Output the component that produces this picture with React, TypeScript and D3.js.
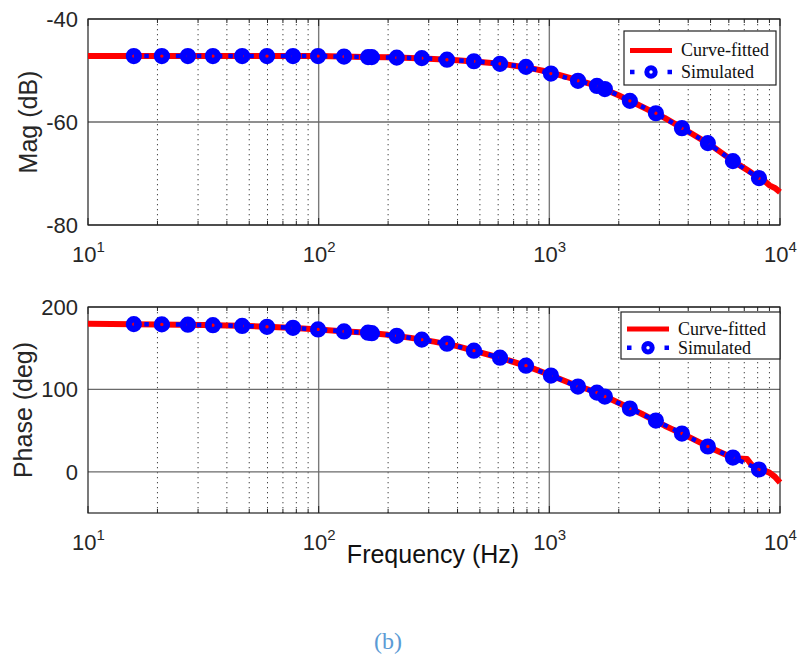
import React from 'react'
import * as d3 from 'd3'

// simulated points (Hz, dB, deg)
const simFreq = [15.8, 20.9, 27.1, 34.8, 46.6, 59.7, 77.4, 99.4, 128.8, 163.7, 170, 218, 280, 360, 471, 611, 792, 1016, 1331, 1608, 1741, 2235, 2897, 3758, 4867, 6250, 8108]
const simMag = [-47.2, -47.2, -47.2, -47.2, -47.2, -47.2, -47.2, -47.2, -47.3, -47.4, -47.4, -47.5, -47.6, -47.9, -48.2, -48.7, -49.3, -50.6, -52.0, -53.0, -53.6, -55.9, -58.3, -61.2, -64.1, -67.6, -70.9]
const simPhase = [179.2, 178.9, 178.5, 177.9, 177.0, 176.0, 174.7, 172.8, 170.3, 168.8, 168.2, 165.0, 160.4, 155.5, 147.0, 138.5, 128.8, 116.8, 103.4, 96.1, 91.3, 76.7, 62.2, 46.4, 30.7, 17.3, 2.8]

// curve-fitted response
const fitFreq = [10, 12.6, 15.8, 20, 25, 31.6, 40, 50, 63, 79, 100, 126, 158, 200, 251, 316, 398, 501, 631, 794, 1000, 1259, 1585, 1995, 2512, 3162, 3981, 5012, 6310, 7200, 7500, 7943, 8500, 9000, 9500, 10000]
const fitMag = [-47.2, -47.2, -47.2, -47.2, -47.2, -47.2, -47.2, -47.2, -47.2, -47.2, -47.2, -47.3, -47.4, -47.45, -47.55, -47.75, -48.0, -48.35, -48.75, -49.4, -50.3, -51.6, -52.9, -54.8, -57.0, -59.2, -61.8, -64.5, -67.7, -69.3, -69.8, -70.7, -71.3, -72.3, -72.8, -73.6]
const fitPhase = [179.6, 179.4, 179.2, 178.9, 178.6, 178.1, 177.5, 176.8, 175.8, 174.6, 172.8, 170.5, 169.0, 166.2, 162.5, 158.0, 152.5, 145.0, 137.2, 128.5, 117.8, 106.6, 96.8, 83.8, 70.4, 56.0, 43.0, 29.0, 16.5, 15.5, 9.0, 4.0, 2.0, -1.0, -6.0, -13.0]

const decades = [10, 100, 1000, 10000]
const magTicks = [-80, -60, -40]
const phaseTicks = [0, 100, 200]
const legendItems = ['Curve-fitted', 'Simulated']

const W = 799
const H = 655
const left = 88
const right = 780
const sans = 'Liberation Sans, Arial, sans-serif'
const serif = 'Liberation Serif, Times New Roman, serif'

const x = d3.scaleLog().domain([10, 10000]).range([left, right])

const minors: number[] = []
decades.slice(0, 3).forEach((d) => {
  for (let k = 2; k <= 9; k++) minors.push(d * k)
})

function Panel({ top, bottom, domain, ticks, fit, sim, label, legend }: any) {
  const y = d3.scaleLinear().domain(domain).range([bottom, top])
  const line = d3
    .line<number>()
    .x((d, i) => x(fitFreq[i]))
    .y((d) => y(d))
  const simLine = d3
    .line<number>()
    .x((d, i) => x(simFreq[i]))
    .y((d) => y(d))
  const clipId = 'clip' + top
  return (
    <g>
      <defs>
        <clipPath id={clipId}>
          <rect x={left} y={top - 4} width={right - left + 4} height={bottom - top + 8} />
        </clipPath>
      </defs>
      {/* minor grid */}
      {minors.map((m) => (
        <line key={m} x1={x(m)} x2={x(m)} y1={top} y2={bottom} stroke="#444" strokeWidth={1} strokeDasharray="1.3,3.7" />
      ))}
      {/* major grid */}
      {decades.slice(1, 3).map((d) => (
        <line key={d} x1={x(d)} x2={x(d)} y1={top} y2={bottom} stroke="#7a7a7a" strokeWidth={1.4} />
      ))}
      {ticks.map((t: number) => (
        <line key={t} x1={left} x2={right} y1={y(t)} y2={y(t)} stroke="#6a6a6a" strokeWidth={1.3} />
      ))}
      <rect x={left} y={top} width={right - left} height={bottom - top} fill="none" stroke="#222" strokeWidth={1.2} />
      {/* inner ticks */}
      {minors.concat(decades).map((m) => (
        <g key={'t' + m}>
          <line x1={x(m)} x2={x(m)} y1={bottom} y2={bottom - (decades.includes(m) ? 7 : 4)} stroke="#222" />
          <line x1={x(m)} x2={x(m)} y1={top} y2={top + (decades.includes(m) ? 7 : 4)} stroke="#222" />
        </g>
      ))}
      {/* data */}
      <g clipPath={`url(#${clipId})`}>
        <path d={line(fit) || ''} fill="none" stroke="#ff0000" strokeWidth={6} strokeLinejoin="round" />
        <path d={simLine(sim) || ''} fill="none" stroke="#0000ff" strokeWidth={4.5} strokeDasharray="4.5,6" />
        {sim.map((v: number, i: number) => (
          <circle key={i} cx={x(simFreq[i])} cy={y(v)} r={4.9} fill="none" stroke="#0000ff" strokeWidth={6.4} />
        ))}
      </g>
      {/* y tick labels */}
      {ticks.map((t: number) => (
        <text key={'l' + t} x={left - 10} y={y(t) + 8} textAnchor="end" fontFamily={sans} fontSize={22} fill="#262626">
          {t}
        </text>
      ))}
      {/* x tick labels */}
      {decades.map((d, i) => (
        <text key={'x' + d} x={x(d) - 16} y={bottom + 37} fontFamily={sans} fontSize={22} fill="#262626">
          10
          <tspan dy={-10} fontSize={15}>
            {i + 1}
          </tspan>
        </text>
      ))}
      <text
        transform={`translate(${label.x},${(top + bottom) / 2}) rotate(-90)`}
        textAnchor="middle"
        fontFamily={sans}
        fontSize={25}
        fill="#262626"
      >
        {label.text}
      </text>
      {/* legend */}
      <g transform={`translate(${legend.x},${legend.y})`}>
        <rect x={0} y={0} width={legend.w} height={legend.h} fill="#fff" stroke="#222" strokeWidth={1.2} />
        <line x1={6} x2={48} y1={legend.h * 0.36} y2={legend.h * 0.36} stroke="#ff0000" strokeWidth={5} />
        <line x1={6} x2={48} y1={legend.h * 0.76} y2={legend.h * 0.76} stroke="#0000ff" strokeWidth={4.5} strokeDasharray="4.5,33" />
        <circle cx={27} cy={legend.h * 0.76} r={4.2} fill="none" stroke="#0000ff" strokeWidth={5} />
        {legendItems.map((s, i) => (
          <text key={s} x={57} y={legend.h * (i === 0 ? 0.36 : 0.76) + 6} fontFamily={serif} fontSize={18} fill="#111">
            {s}
          </text>
        ))}
      </g>
    </g>
  )
}

export default function App() {
  return (
    <svg width={W} height={H} style={{ position: 'absolute', left: 0, top: 0, background: '#fff' }}>
      <rect width={W} height={H} fill="#fff" />
      <Panel
        top={19}
        bottom={225}
        domain={[-80, -40]}
        ticks={magTicks}
        fit={fitMag}
        sim={simMag}
        label={{ text: 'Mag (dB)', x: 37 }}
        legend={{ x: 624, y: 31, w: 152, h: 54 }}
      />
      <Panel
        top={307}
        bottom={513}
        domain={[-50, 200]}
        ticks={phaseTicks}
        fit={fitPhase}
        sim={simPhase}
        label={{ text: 'Phase (deg)', x: 32 }}
        legend={{ x: 621, y: 312, w: 159, h: 47 }}
      />
      <text x={433} y={563} textAnchor="middle" fontFamily={sans} fontSize={25} fill="#111">
        Frequency (Hz)
      </text>
      <text x={388} y={649} textAnchor="middle" fontFamily={serif} fontSize={24} fill="#5b9bd5">
        (b)
      </text>
    </svg>
  )
}
